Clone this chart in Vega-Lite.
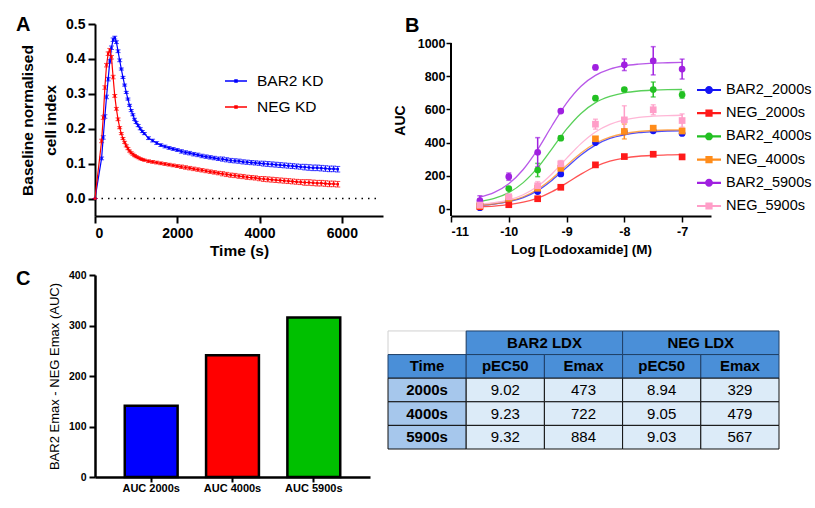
{
"$schema": "https://vega.github.io/schema/vega-lite/v6.json",
"background": "white",
"padding": {"left": 16, "top": 14, "right": 0, "bottom": 0},
"config": {
  "font": "Liberation Sans",
  "view": {"stroke": null},
  "axis": {"domainColor": "black", "domainWidth": 2, "tickColor": "black", "tickWidth": 2, "labelColor": "black", "titleColor": "black", "labelFontWeight": "bold", "titleFontWeight": "bold", "grid": false},
  "title": {"fontSize": 20, "fontWeight": "bold", "anchor": "start", "frame": "group", "color": "black"},
  "legend": {"labelColor": "black", "padding": 0, "title": null}
},
"resolve": {"scale": {"color": "independent", "shape": "independent", "fill": "independent", "stroke": "independent", "strokeWidth": "independent"}, "legend": {"color": "independent", "shape": "independent", "fill": "independent", "stroke": "independent", "strokeWidth": "independent"}},
"datasets": {
  "kin": [
    {"t":0,"s":"BAR2 KD","v":0,"e":0},{"t":160,"s":"BAR2 KD","v":0.115,"e":0.004},{"t":200,"s":"BAR2 KD","v":0.175,"e":0.005},{"t":240,"s":"BAR2 KD","v":0.235,"e":0.005},{"t":280,"s":"BAR2 KD","v":0.291,"e":0.005},{"t":320,"s":"BAR2 KD","v":0.342,"e":0.005},{"t":360,"s":"BAR2 KD","v":0.393,"e":0.005},{"t":400,"s":"BAR2 KD","v":0.432,"e":0.005},{"t":440,"s":"BAR2 KD","v":0.455,"e":0.005},{"t":480,"s":"BAR2 KD","v":0.461,"e":0.004},{"t":520,"s":"BAR2 KD","v":0.448,"e":0.004},{"t":560,"s":"BAR2 KD","v":0.422,"e":0.004},{"t":600,"s":"BAR2 KD","v":0.396,"e":0.004},{"t":640,"s":"BAR2 KD","v":0.371,"e":0.003},{"t":680,"s":"BAR2 KD","v":0.347,"e":0.003},{"t":720,"s":"BAR2 KD","v":0.325,"e":0.003},{"t":760,"s":"BAR2 KD","v":0.304,"e":0.003},{"t":800,"s":"BAR2 KD","v":0.285,"e":0.003},{"t":840,"s":"BAR2 KD","v":0.267,"e":0.003},{"t":880,"s":"BAR2 KD","v":0.252,"e":0.003},{"t":920,"s":"BAR2 KD","v":0.24,"e":0.003},{"t":960,"s":"BAR2 KD","v":0.227,"e":0.003},{"t":1000,"s":"BAR2 KD","v":0.218,"e":0.003},{"t":1050,"s":"BAR2 KD","v":0.209,"e":0.003},{"t":1100,"s":"BAR2 KD","v":0.2,"e":0.003},{"t":1150,"s":"BAR2 KD","v":0.192,"e":0.003},{"t":1200,"s":"BAR2 KD","v":0.186,"e":0.003},
    {"t":1300,"s":"BAR2 KD","v":0.173,"e":0.004},{"t":1400,"s":"BAR2 KD","v":0.166,"e":0.004},{"t":1500,"s":"BAR2 KD","v":0.159,"e":0.004},{"t":1600,"s":"BAR2 KD","v":0.153,"e":0.004},{"t":1700,"s":"BAR2 KD","v":0.149,"e":0.004},{"t":1800,"s":"BAR2 KD","v":0.145,"e":0.004},{"t":1900,"s":"BAR2 KD","v":0.142,"e":0.004},{"t":2000,"s":"BAR2 KD","v":0.139,"e":0.004},
    {"t":2100,"s":"BAR2 KD","v":0.135,"e":0.005},{"t":2200,"s":"BAR2 KD","v":0.132,"e":0.005},{"t":2300,"s":"BAR2 KD","v":0.13,"e":0.005},{"t":2400,"s":"BAR2 KD","v":0.127,"e":0.005},{"t":2500,"s":"BAR2 KD","v":0.125,"e":0.005},{"t":2600,"s":"BAR2 KD","v":0.122,"e":0.005},{"t":2700,"s":"BAR2 KD","v":0.12,"e":0.005},{"t":2800,"s":"BAR2 KD","v":0.118,"e":0.005},{"t":2900,"s":"BAR2 KD","v":0.116,"e":0.005},{"t":3000,"s":"BAR2 KD","v":0.114,"e":0.005},
    {"t":3100,"s":"BAR2 KD","v":0.113,"e":0.006},{"t":3200,"s":"BAR2 KD","v":0.111,"e":0.006},{"t":3300,"s":"BAR2 KD","v":0.109,"e":0.006},{"t":3400,"s":"BAR2 KD","v":0.108,"e":0.006},{"t":3500,"s":"BAR2 KD","v":0.107,"e":0.006},{"t":3600,"s":"BAR2 KD","v":0.105,"e":0.006},{"t":3700,"s":"BAR2 KD","v":0.104,"e":0.006},{"t":3800,"s":"BAR2 KD","v":0.103,"e":0.006},{"t":3900,"s":"BAR2 KD","v":0.102,"e":0.006},{"t":4000,"s":"BAR2 KD","v":0.101,"e":0.006},
    {"t":4100,"s":"BAR2 KD","v":0.1,"e":0.007},{"t":4200,"s":"BAR2 KD","v":0.099,"e":0.007},{"t":4300,"s":"BAR2 KD","v":0.098,"e":0.007},{"t":4400,"s":"BAR2 KD","v":0.097,"e":0.007},{"t":4500,"s":"BAR2 KD","v":0.096,"e":0.007},{"t":4600,"s":"BAR2 KD","v":0.095,"e":0.007},{"t":4700,"s":"BAR2 KD","v":0.094,"e":0.007},{"t":4800,"s":"BAR2 KD","v":0.093,"e":0.007},{"t":4900,"s":"BAR2 KD","v":0.092,"e":0.007},{"t":5000,"s":"BAR2 KD","v":0.091,"e":0.007},
    {"t":5100,"s":"BAR2 KD","v":0.09,"e":0.008},{"t":5200,"s":"BAR2 KD","v":0.089,"e":0.008},{"t":5300,"s":"BAR2 KD","v":0.088,"e":0.008},{"t":5400,"s":"BAR2 KD","v":0.088,"e":0.008},{"t":5500,"s":"BAR2 KD","v":0.087,"e":0.008},{"t":5600,"s":"BAR2 KD","v":0.086,"e":0.008},{"t":5700,"s":"BAR2 KD","v":0.085,"e":0.008},{"t":5800,"s":"BAR2 KD","v":0.085,"e":0.008},{"t":5900,"s":"BAR2 KD","v":0.084,"e":0.008},
    {"t":0,"s":"NEG KD","v":0,"e":0},{"t":160,"s":"NEG KD","v":0.165,"e":0.005},{"t":200,"s":"NEG KD","v":0.232,"e":0.005},{"t":240,"s":"NEG KD","v":0.318,"e":0.005},{"t":280,"s":"NEG KD","v":0.382,"e":0.005},{"t":320,"s":"NEG KD","v":0.415,"e":0.005},{"t":360,"s":"NEG KD","v":0.425,"e":0.005},{"t":400,"s":"NEG KD","v":0.405,"e":0.005},{"t":440,"s":"NEG KD","v":0.348,"e":0.005},{"t":480,"s":"NEG KD","v":0.294,"e":0.004},{"t":520,"s":"NEG KD","v":0.257,"e":0.004},{"t":560,"s":"NEG KD","v":0.227,"e":0.004},{"t":600,"s":"NEG KD","v":0.203,"e":0.003},{"t":640,"s":"NEG KD","v":0.186,"e":0.003},{"t":680,"s":"NEG KD","v":0.172,"e":0.003},{"t":720,"s":"NEG KD","v":0.161,"e":0.003},{"t":760,"s":"NEG KD","v":0.151,"e":0.003},{"t":800,"s":"NEG KD","v":0.143,"e":0.003},{"t":840,"s":"NEG KD","v":0.136,"e":0.003},{"t":880,"s":"NEG KD","v":0.131,"e":0.003},{"t":920,"s":"NEG KD","v":0.127,"e":0.003},{"t":960,"s":"NEG KD","v":0.123,"e":0.003},{"t":1000,"s":"NEG KD","v":0.12,"e":0.003},{"t":1050,"s":"NEG KD","v":0.117,"e":0.003},{"t":1100,"s":"NEG KD","v":0.114,"e":0.003},{"t":1150,"s":"NEG KD","v":0.112,"e":0.003},{"t":1200,"s":"NEG KD","v":0.11,"e":0.003},
    {"t":1300,"s":"NEG KD","v":0.107,"e":0.004},{"t":1400,"s":"NEG KD","v":0.105,"e":0.004},{"t":1500,"s":"NEG KD","v":0.103,"e":0.004},{"t":1600,"s":"NEG KD","v":0.101,"e":0.004},{"t":1700,"s":"NEG KD","v":0.099,"e":0.004},{"t":1800,"s":"NEG KD","v":0.097,"e":0.004},{"t":1900,"s":"NEG KD","v":0.095,"e":0.004},{"t":2000,"s":"NEG KD","v":0.093,"e":0.004},
    {"t":2100,"s":"NEG KD","v":0.091,"e":0.005},{"t":2200,"s":"NEG KD","v":0.089,"e":0.005},{"t":2300,"s":"NEG KD","v":0.087,"e":0.005},{"t":2400,"s":"NEG KD","v":0.085,"e":0.005},{"t":2500,"s":"NEG KD","v":0.083,"e":0.005},{"t":2600,"s":"NEG KD","v":0.081,"e":0.005},{"t":2700,"s":"NEG KD","v":0.079,"e":0.005},{"t":2800,"s":"NEG KD","v":0.077,"e":0.005},{"t":2900,"s":"NEG KD","v":0.075,"e":0.005},{"t":3000,"s":"NEG KD","v":0.073,"e":0.005},
    {"t":3100,"s":"NEG KD","v":0.071,"e":0.006},{"t":3200,"s":"NEG KD","v":0.069,"e":0.006},{"t":3300,"s":"NEG KD","v":0.067,"e":0.006},{"t":3400,"s":"NEG KD","v":0.066,"e":0.006},{"t":3500,"s":"NEG KD","v":0.064,"e":0.006},{"t":3600,"s":"NEG KD","v":0.063,"e":0.006},{"t":3700,"s":"NEG KD","v":0.061,"e":0.006},{"t":3800,"s":"NEG KD","v":0.06,"e":0.006},{"t":3900,"s":"NEG KD","v":0.059,"e":0.006},{"t":4000,"s":"NEG KD","v":0.057,"e":0.006},
    {"t":4100,"s":"NEG KD","v":0.056,"e":0.007},{"t":4200,"s":"NEG KD","v":0.055,"e":0.007},{"t":4300,"s":"NEG KD","v":0.054,"e":0.007},{"t":4400,"s":"NEG KD","v":0.053,"e":0.007},{"t":4500,"s":"NEG KD","v":0.052,"e":0.007},{"t":4600,"s":"NEG KD","v":0.051,"e":0.007},{"t":4700,"s":"NEG KD","v":0.05,"e":0.007},{"t":4800,"s":"NEG KD","v":0.049,"e":0.007},{"t":4900,"s":"NEG KD","v":0.048,"e":0.007},{"t":5000,"s":"NEG KD","v":0.047,"e":0.007},
    {"t":5100,"s":"NEG KD","v":0.046,"e":0.008},{"t":5200,"s":"NEG KD","v":0.046,"e":0.008},{"t":5300,"s":"NEG KD","v":0.045,"e":0.008},{"t":5400,"s":"NEG KD","v":0.044,"e":0.008},{"t":5500,"s":"NEG KD","v":0.044,"e":0.008},{"t":5600,"s":"NEG KD","v":0.043,"e":0.008},{"t":5700,"s":"NEG KD","v":0.042,"e":0.008},{"t":5800,"s":"NEG KD","v":0.042,"e":0.008},{"t":5900,"s":"NEG KD","v":0.041,"e":0.008}
  ],
  "dr": [
    {"series":"BAR2_2000s","kd":"BAR2","lx":-10.5,"auc":8,"e":5},{"series":"BAR2_2000s","kd":"BAR2","lx":-10,"auc":54,"e":8},{"series":"BAR2_2000s","kd":"BAR2","lx":-9.5,"auc":105,"e":10},{"series":"BAR2_2000s","kd":"BAR2","lx":-9.1,"auc":211,"e":12},{"series":"BAR2_2000s","kd":"BAR2","lx":-8.5,"auc":400,"e":10},{"series":"BAR2_2000s","kd":"BAR2","lx":-8,"auc":465,"e":12},{"series":"BAR2_2000s","kd":"BAR2","lx":-7.5,"auc":471,"e":10},{"series":"BAR2_2000s","kd":"BAR2","lx":-7,"auc":455,"e":10},
    {"series":"NEG_2000s","kd":"NEG","lx":-10.5,"auc":14,"e":4},{"series":"NEG_2000s","kd":"NEG","lx":-10,"auc":26,"e":5},{"series":"NEG_2000s","kd":"NEG","lx":-9.5,"auc":62,"e":8},{"series":"NEG_2000s","kd":"NEG","lx":-9.1,"auc":131,"e":10},{"series":"NEG_2000s","kd":"NEG","lx":-8.5,"auc":266,"e":12},{"series":"NEG_2000s","kd":"NEG","lx":-8,"auc":316,"e":10},{"series":"NEG_2000s","kd":"NEG","lx":-7.5,"auc":330,"e":8},{"series":"NEG_2000s","kd":"NEG","lx":-7,"auc":314,"e":10},
    {"series":"BAR2_4000s","kd":"BAR2","lx":-10.5,"auc":30,"e":10},{"series":"BAR2_4000s","kd":"BAR2","lx":-10,"auc":123,"e":8},{"series":"BAR2_4000s","kd":"BAR2","lx":-9.5,"auc":235,"e":40},{"series":"BAR2_4000s","kd":"BAR2","lx":-9.1,"auc":427,"e":12},{"series":"BAR2_4000s","kd":"BAR2","lx":-8.5,"auc":668,"e":10},{"series":"BAR2_4000s","kd":"BAR2","lx":-8,"auc":720,"e":10},{"series":"BAR2_4000s","kd":"BAR2","lx":-7.5,"auc":720,"e":45},{"series":"BAR2_4000s","kd":"BAR2","lx":-7,"auc":688,"e":20},
    {"series":"NEG_4000s","kd":"NEG","lx":-10.5,"auc":20,"e":6},{"series":"NEG_4000s","kd":"NEG","lx":-10,"auc":64,"e":8},{"series":"NEG_4000s","kd":"NEG","lx":-9.5,"auc":125,"e":15},{"series":"NEG_4000s","kd":"NEG","lx":-9.1,"auc":245,"e":15},{"series":"NEG_4000s","kd":"NEG","lx":-8.5,"auc":423,"e":12},{"series":"NEG_4000s","kd":"NEG","lx":-8,"auc":467,"e":45},{"series":"NEG_4000s","kd":"NEG","lx":-7.5,"auc":487,"e":12},{"series":"NEG_4000s","kd":"NEG","lx":-7,"auc":470,"e":10},
    {"series":"BAR2_5900s","kd":"BAR2","lx":-10.5,"auc":50,"e":30},{"series":"BAR2_5900s","kd":"BAR2","lx":-10,"auc":195,"e":22},{"series":"BAR2_5900s","kd":"BAR2","lx":-9.5,"auc":342,"e":88},{"series":"BAR2_5900s","kd":"BAR2","lx":-9.1,"auc":590,"e":10},{"series":"BAR2_5900s","kd":"BAR2","lx":-8.5,"auc":853,"e":12},{"series":"BAR2_5900s","kd":"BAR2","lx":-8,"auc":869,"e":35},{"series":"BAR2_5900s","kd":"BAR2","lx":-7.5,"auc":893,"e":85},{"series":"BAR2_5900s","kd":"BAR2","lx":-7,"auc":843,"e":60},
    {"series":"NEG_5900s","kd":"NEG","lx":-10.5,"auc":24,"e":8},{"series":"NEG_5900s","kd":"NEG","lx":-10,"auc":74,"e":10},{"series":"NEG_5900s","kd":"NEG","lx":-9.5,"auc":140,"e":25},{"series":"NEG_5900s","kd":"NEG","lx":-9.1,"auc":272,"e":20},{"series":"NEG_5900s","kd":"NEG","lx":-8.5,"auc":511,"e":30},{"series":"NEG_5900s","kd":"NEG","lx":-8,"auc":537,"e":85},{"series":"NEG_5900s","kd":"NEG","lx":-7.5,"auc":598,"e":30},{"series":"NEG_5900s","kd":"NEG","lx":-7,"auc":533,"e":40}
  ],
  "curves": [
    {"series":"BAR2_2000s","lx":-10.5,"auc":22},{"series":"BAR2_2000s","lx":-10.25,"auc":30},{"series":"BAR2_2000s","lx":-10,"auc":44},{"series":"BAR2_2000s","lx":-9.75,"auc":69},{"series":"BAR2_2000s","lx":-9.5,"auc":111},{"series":"BAR2_2000s","lx":-9.25,"auc":174},{"series":"BAR2_2000s","lx":-9,"auc":250},{"series":"BAR2_2000s","lx":-8.75,"auc":326},{"series":"BAR2_2000s","lx":-8.5,"auc":385},{"series":"BAR2_2000s","lx":-8.25,"auc":425},{"series":"BAR2_2000s","lx":-8,"auc":447},{"series":"BAR2_2000s","lx":-7.75,"auc":460},{"series":"BAR2_2000s","lx":-7.5,"auc":466},{"series":"BAR2_2000s","lx":-7.25,"auc":470},{"series":"BAR2_2000s","lx":-7,"auc":471},
    {"series":"NEG_2000s","lx":-10.5,"auc":14},{"series":"NEG_2000s","lx":-10.25,"auc":18},{"series":"NEG_2000s","lx":-10,"auc":26},{"series":"NEG_2000s","lx":-9.75,"auc":41},{"series":"NEG_2000s","lx":-9.5,"auc":66},{"series":"NEG_2000s","lx":-9.25,"auc":105},{"series":"NEG_2000s","lx":-9,"auc":156},{"series":"NEG_2000s","lx":-8.75,"auc":210},{"series":"NEG_2000s","lx":-8.5,"auc":256},{"series":"NEG_2000s","lx":-8.25,"auc":288},{"series":"NEG_2000s","lx":-8,"auc":307},{"series":"NEG_2000s","lx":-7.75,"auc":318},{"series":"NEG_2000s","lx":-7.5,"auc":323},{"series":"NEG_2000s","lx":-7.25,"auc":326},{"series":"NEG_2000s","lx":-7,"auc":328},
    {"series":"BAR2_4000s","lx":-10.5,"auc":45},{"series":"BAR2_4000s","lx":-10.25,"auc":64},{"series":"BAR2_4000s","lx":-10,"auc":99},{"series":"BAR2_4000s","lx":-9.75,"auc":159},{"series":"BAR2_4000s","lx":-9.5,"auc":249},{"series":"BAR2_4000s","lx":-9.25,"auc":364},{"series":"BAR2_4000s","lx":-9,"auc":481},{"series":"BAR2_4000s","lx":-8.75,"auc":576},{"series":"BAR2_4000s","lx":-8.5,"auc":641},{"series":"BAR2_4000s","lx":-8.25,"auc":678},{"series":"BAR2_4000s","lx":-8,"auc":700},{"series":"BAR2_4000s","lx":-7.75,"auc":711},{"series":"BAR2_4000s","lx":-7.5,"auc":716},{"series":"BAR2_4000s","lx":-7.25,"auc":719},{"series":"BAR2_4000s","lx":-7,"auc":720},
    {"series":"NEG_4000s","lx":-10.5,"auc":23},{"series":"NEG_4000s","lx":-10.25,"auc":31},{"series":"NEG_4000s","lx":-10,"auc":47},{"series":"NEG_4000s","lx":-9.75,"auc":74},{"series":"NEG_4000s","lx":-9.5,"auc":119},{"series":"NEG_4000s","lx":-9.25,"auc":184},{"series":"NEG_4000s","lx":-9,"auc":263},{"series":"NEG_4000s","lx":-8.75,"auc":338},{"series":"NEG_4000s","lx":-8.5,"auc":396},{"series":"NEG_4000s","lx":-8.25,"auc":433},{"series":"NEG_4000s","lx":-8,"auc":455},{"series":"NEG_4000s","lx":-7.75,"auc":467},{"series":"NEG_4000s","lx":-7.5,"auc":473},{"series":"NEG_4000s","lx":-7.25,"auc":476},{"series":"NEG_4000s","lx":-7,"auc":477},
    {"series":"BAR2_5900s","lx":-10.5,"auc":71},{"series":"BAR2_5900s","lx":-10.25,"auc":100},{"series":"BAR2_5900s","lx":-10,"auc":152},{"series":"BAR2_5900s","lx":-9.75,"auc":238},{"series":"BAR2_5900s","lx":-9.5,"auc":359},{"series":"BAR2_5900s","lx":-9.25,"auc":503},{"series":"BAR2_5900s","lx":-9,"auc":638},{"series":"BAR2_5900s","lx":-8.75,"auc":740},{"series":"BAR2_5900s","lx":-8.5,"auc":805},{"series":"BAR2_5900s","lx":-8.25,"auc":843},{"series":"BAR2_5900s","lx":-8,"auc":863},{"series":"BAR2_5900s","lx":-7.75,"auc":873},{"series":"BAR2_5900s","lx":-7.5,"auc":879},{"series":"BAR2_5900s","lx":-7.25,"auc":881},{"series":"BAR2_5900s","lx":-7,"auc":883},
    {"series":"NEG_5900s","lx":-10.5,"auc":29},{"series":"NEG_5900s","lx":-10.25,"auc":38},{"series":"NEG_5900s","lx":-10,"auc":55},{"series":"NEG_5900s","lx":-9.75,"auc":86},{"series":"NEG_5900s","lx":-9.5,"auc":137},{"series":"NEG_5900s","lx":-9.25,"auc":213},{"series":"NEG_5900s","lx":-9,"auc":305},{"series":"NEG_5900s","lx":-8.75,"auc":394},{"series":"NEG_5900s","lx":-8.5,"auc":464},{"series":"NEG_5900s","lx":-8.25,"auc":510},{"series":"NEG_5900s","lx":-8,"auc":537},{"series":"NEG_5900s","lx":-7.75,"auc":552},{"series":"NEG_5900s","lx":-7.5,"auc":559},{"series":"NEG_5900s","lx":-7.25,"auc":563},{"series":"NEG_5900s","lx":-7,"auc":565}
  ],
  "tbl": [
    {"c0":0,"c1":1,"r0":0,"r1":1,"cx":0.5,"cy":0.5,"txt":"","kind":"blank"},
    {"c0":1,"c1":3,"r0":0,"r1":1,"cx":2,"cy":0.5,"txt":"BAR2 LDX","kind":"head"},
    {"c0":3,"c1":5,"r0":0,"r1":1,"cx":4,"cy":0.5,"txt":"NEG LDX","kind":"head"},
    {"c0":0,"c1":1,"r0":1,"r1":2,"cx":0.5,"cy":1.5,"txt":"Time","kind":"head"},
    {"c0":1,"c1":2,"r0":1,"r1":2,"cx":1.5,"cy":1.5,"txt":"pEC50","kind":"head"},
    {"c0":2,"c1":3,"r0":1,"r1":2,"cx":2.5,"cy":1.5,"txt":"Emax","kind":"head"},
    {"c0":3,"c1":4,"r0":1,"r1":2,"cx":3.5,"cy":1.5,"txt":"pEC50","kind":"head"},
    {"c0":4,"c1":5,"r0":1,"r1":2,"cx":4.5,"cy":1.5,"txt":"Emax","kind":"head"},
    {"c0":0,"c1":1,"r0":2,"r1":3,"cx":0.5,"cy":2.5,"txt":"2000s","kind":"rowhead"},
    {"c0":1,"c1":2,"r0":2,"r1":3,"cx":1.5,"cy":2.5,"txt":"9.02","kind":"body"},
    {"c0":2,"c1":3,"r0":2,"r1":3,"cx":2.5,"cy":2.5,"txt":"473","kind":"body"},
    {"c0":3,"c1":4,"r0":2,"r1":3,"cx":3.5,"cy":2.5,"txt":"8.94","kind":"body"},
    {"c0":4,"c1":5,"r0":2,"r1":3,"cx":4.5,"cy":2.5,"txt":"329","kind":"body"},
    {"c0":0,"c1":1,"r0":3,"r1":4,"cx":0.5,"cy":3.5,"txt":"4000s","kind":"rowhead"},
    {"c0":1,"c1":2,"r0":3,"r1":4,"cx":1.5,"cy":3.5,"txt":"9.23","kind":"body"},
    {"c0":2,"c1":3,"r0":3,"r1":4,"cx":2.5,"cy":3.5,"txt":"722","kind":"body"},
    {"c0":3,"c1":4,"r0":3,"r1":4,"cx":3.5,"cy":3.5,"txt":"9.05","kind":"body"},
    {"c0":4,"c1":5,"r0":3,"r1":4,"cx":4.5,"cy":3.5,"txt":"479","kind":"body"},
    {"c0":0,"c1":1,"r0":4,"r1":5,"cx":0.5,"cy":4.5,"txt":"5900s","kind":"rowhead"},
    {"c0":1,"c1":2,"r0":4,"r1":5,"cx":1.5,"cy":4.5,"txt":"9.32","kind":"body"},
    {"c0":2,"c1":3,"r0":4,"r1":5,"cx":2.5,"cy":4.5,"txt":"884","kind":"body"},
    {"c0":3,"c1":4,"r0":4,"r1":5,"cx":3.5,"cy":4.5,"txt":"9.03","kind":"body"},
    {"c0":4,"c1":5,"r0":4,"r1":5,"cx":4.5,"cy":4.5,"txt":"567","kind":"body"}
  ]
},
"spacing": 9,
"vconcat": [
  {
    "spacing": 10,
    "resolve": {"scale": {"color": "independent", "shape": "independent"}, "legend": {"color": "independent", "shape": "independent"}},
    "hconcat": [
      {
        "width": 288, "height": 192,
        "title": {"text": "A", "dx": -79, "offset": -17.5},
        "data": {"name": "kin"},
        "encoding": {
          "x": {"field": "t", "type": "quantitative", "scale": {"domain": [0, 7000]}, "axis": {"values": [0, 2000, 4000, 6000], "format": "d", "labelFontSize": 14, "tickSize": 7, "labelPadding": 3, "title": "Time (s)", "titleFontSize": 15.5, "titlePadding": 3}},
          "y": {"field": "v", "type": "quantitative", "scale": {"domain": [-0.05, 0.5]}, "axis": {"values": [0, 0.1, 0.2, 0.3, 0.4, 0.5], "format": ".1f", "labelFontSize": 14, "tickSize": 7, "labelPadding": 3, "title": ["Baseline normalised", "cell index"], "titleFontSize": 15.5, "titleLineHeight": 23, "titlePadding": 7}},
          "color": {"field": "s", "type": "nominal", "scale": {"domain": ["BAR2 KD", "NEG KD"], "range": ["#0000ff", "#ff0000"]},
            "legend": {"orient": "none", "legendX": 130, "legendY": 46, "labelFontSize": 15.5, "labelFontWeight": "normal", "labelOffset": 10, "rowPadding": 6, "symbolSize": 484, "symbolStrokeWidth": 0,
              "symbolType": "M-1,-0.07L1,-0.07L1,0.07L-1,0.07Z M-0.16,-0.16L0.16,-0.16L0.16,0.16L-0.16,0.16Z",
              "encode": {"symbols": {"update": {"fill": {"signal": "datum.value == 'BAR2 KD' ? '#0000ff' : '#ff0000'"}, "strokeWidth": {"value": 0}, "opacity": {"value": 1}}}}}}
        },
        "layer": [
          {"data": {"values": [{"t": 0, "t2": 6900, "v": 0}]}, "mark": {"type": "rule", "strokeDash": [1.5, 5], "strokeWidth": 1.6}, "encoding": {"x2": {"field": "t2"}, "color": {"value": "black"}}},
          {"mark": {"type": "errorbar", "ticks": true, "thickness": 1}, "encoding": {"yError": {"field": "e"}}},
          {"mark": {"type": "line", "strokeWidth": 1.2}},
          {"mark": {"type": "point", "shape": "square", "filled": true, "size": 6, "opacity": 1}}
        ]
      },
      {
        "width": 260, "height": 192,
        "title": {"text": "B", "dx": -46, "offset": -11.5},
        "encoding": {
          "x": {"field": "lx", "type": "quantitative", "scale": {"domain": [-11, -6.5]}, "axis": {"values": [-11, -10, -9, -8, -7], "labelExpr": "'' + datum.value", "labelFontSize": 12.5, "tickSize": 6, "tickWidth": 1.5, "labelPadding": 3, "title": "Log [Lodoxamide] (M)", "titleFontSize": 13.5, "titlePadding": 5}},
          "y": {"field": "auc", "type": "quantitative", "scale": {"domain": [-42, 1114.5]}, "axis": {"values": [0, 200, 400, 600, 800, 1000], "format": "d", "domain": false, "labelFontSize": 12.5, "tickSize": 5, "tickWidth": 1.5, "labelPadding": 1, "title": "AUC", "titleFontSize": 14, "titlePadding": 10}},
          "color": {"field": "series", "type": "nominal", "scale": {"domain": ["BAR2_2000s", "NEG_2000s", "BAR2_4000s", "NEG_4000s", "BAR2_5900s", "NEG_5900s"], "range": ["#1414f5", "#ff1a1a", "#22c022", "#ff8c1a", "#a020e0", "#ff9ec8"]},
            "legend": {"orient": "none", "legendX": 246, "legendY": 54, "labelFontSize": 14.5, "labelFontWeight": "normal", "labelOffset": 5, "rowPadding": 4.2, "symbolSize": 576, "symbolStrokeWidth": 0,
              "symbolType": "M-1,-0.09L1,-0.09L1,0.09L-1,0.09Z M0.33,0A0.33,0.33 0 1,1 -0.33,0A0.33,0.33 0 1,1 0.33,0Z",
              "encode": {"symbols": {"update": {
                "shape": {"signal": "indexof(datum.value, 'BAR2') == 0 ? 'M-1,-0.09L1,-0.09L1,0.09L-1,0.09Z M0.33,0A0.33,0.33 0 1,1 -0.33,0A0.33,0.33 0 1,1 0.33,0Z' : 'M-1,-0.09L1,-0.09L1,0.09L-1,0.09Z M-0.3,-0.3L0.3,-0.3L0.3,0.3L-0.3,0.3Z'"},
                "fill": {"signal": "{'BAR2_2000s':'#1414f5','NEG_2000s':'#ff1a1a','BAR2_4000s':'#22c022','NEG_4000s':'#ff8c1a','BAR2_5900s':'#a020e0','NEG_5900s':'#ff9ec8'}[datum.value]"},
                "strokeWidth": {"value": 0}, "opacity": {"value": 1}}}}}}
        },
        "layer": [
          {"data": {"values": [{"lx": -11, "auc": -42, "auc2": 1000}]}, "mark": {"type": "rule", "strokeWidth": 2}, "encoding": {"y2": {"field": "auc2"}, "color": {"value": "black"}}},
          {"data": {"name": "curves"}, "mark": {"type": "line", "strokeWidth": 1.3, "interpolate": "monotone", "opacity": 0.75}},
          {"data": {"name": "dr"}, "mark": {"type": "errorbar", "ticks": true, "thickness": 1.5}, "encoding": {"yError": {"field": "e"}}},
          {"data": {"name": "dr"}, "mark": {"type": "point", "filled": true, "size": 45, "opacity": 1},
            "encoding": {"shape": {"field": "kd", "type": "nominal", "scale": {"domain": ["BAR2", "NEG"], "range": ["circle", "square"]}, "legend": null}}}
        ]
      }
    ]
  },
  {
    "spacing": 17,
    "resolve": {"scale": {"color": "independent", "fill": "independent", "stroke": "independent", "strokeWidth": "independent"}, "legend": {"color": "independent", "fill": "independent", "stroke": "independent", "strokeWidth": "independent"}},
    "hconcat": [
      {
        "width": 275, "height": 202,
        "title": {"text": "C", "dx": -79, "offset": -18.5},
        "data": {"values": [{"cond": "AUC 2000s", "diff": 141}, {"cond": "AUC 4000s", "diff": 241}, {"cond": "AUC 5900s", "diff": 316}]},
        "mark": {"type": "bar", "stroke": "black", "strokeWidth": 2.5},
        "encoding": {
          "x": {"field": "cond", "type": "nominal", "sort": null, "scale": {"paddingInner": 0.35, "paddingOuter": 0.366}, "axis": {"labelAngle": 0, "title": null, "labelFontSize": 11, "tickSize": 5, "labelPadding": 0, "domainWidth": 2.5}},
          "y": {"field": "diff", "type": "quantitative", "scale": {"domain": [0, 400]}, "axis": {"values": [0, 100, 200, 300, 400], "labelFontSize": 10.5, "tickSize": 6, "labelPadding": 3, "domainWidth": 2.5, "title": "BAR2 Emax - NEG Emax (AUC)", "titleFontWeight": "normal", "titleFontSize": 13, "titlePadding": 7}},
          "color": {"field": "cond", "type": "nominal", "scale": {"range": ["#0000ff", "#ff0000", "#00c000"]}, "legend": null}
        }
      },
      {
        "width": 391, "height": 174,
        "data": {"name": "tbl"},
        "encoding": {
          "x": {"field": "c0", "type": "quantitative", "scale": {"domain": [0, 5]}, "axis": null},
          "y": {"field": "r0", "type": "quantitative", "scale": {"domain": [-2.37, 5], "reverse": true}, "axis": null}
        },
        "layer": [
          {"mark": {"type": "rect"},
            "encoding": {
              "x2": {"field": "c1"}, "y2": {"field": "r1"},
              "fill": {"field": "kind", "type": "nominal", "scale": {"domain": ["blank", "head", "rowhead", "body"], "range": ["#ffffff", "#4a8fd8", "#a6c7ec", "#dcebf8"]}, "legend": null},
              "stroke": {"field": "kind", "type": "nominal", "scale": {"domain": ["blank", "head", "rowhead", "body"], "range": ["#d0d0d0", "#1f3f66", "#111111", "#111111"]}, "legend": null},
              "strokeWidth": {"field": "kind", "type": "nominal", "scale": {"domain": ["blank", "head", "rowhead", "body"], "range": [1, 1, 1.8, 1.8]}, "legend": null}
            }},
          {"transform": [{"filter": "datum.kind != 'body'"}], "mark": {"type": "text", "fontWeight": "bold", "fontSize": 15, "color": "black", "baseline": "middle"},
            "encoding": {"x": {"field": "cx", "type": "quantitative"}, "y": {"field": "cy", "type": "quantitative"}, "text": {"field": "txt"}}},
          {"transform": [{"filter": "datum.kind == 'body'"}], "mark": {"type": "text", "fontSize": 15, "color": "black", "baseline": "middle"},
            "encoding": {"x": {"field": "cx", "type": "quantitative"}, "y": {"field": "cy", "type": "quantitative"}, "text": {"field": "txt"}}}
        ]
      }
    ]
  }
]
}
